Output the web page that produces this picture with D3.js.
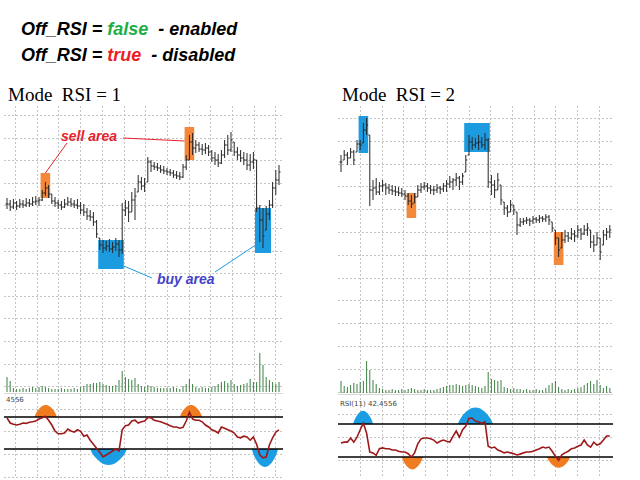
<!DOCTYPE html>
<html lang="en">
<head>
<meta charset="UTF-8">
<title>Off_RSI - Mode RSI 1 / 2</title>
<script src="https://cdn.jsdelivr.net/npm/d3@7"></script>
<style>
    body { margin: 0; background: #fff; }
    svg { display: block; }
    text { white-space: pre; }
    .head { font-family: "Liberation Sans", Arial, sans-serif; font-weight: bold; font-style: italic; font-size: 18px; fill: #000; }
    .mode { font-family: "Liberation Serif", "Times New Roman", serif; font-size: 19px; fill: #000; }
    .note { font-family: "Liberation Sans", Arial, sans-serif; font-weight: bold; font-style: italic; font-size: 14px; }
    .rsiLabel { font-family: "DejaVu Sans", sans-serif; font-size: 7px; fill: #444; }
</style>
</head>
<body>
<div class="container"></div>
<script>
    ////////////////////////////////////////////////////////////////
    /*                      Data          */
    ////////////////////////////////////////////////////////////////

    const headerLines = [
        ["Off_RSI = ", "false", "  - enabled"],
        ["Off_RSI = ", "true", "  - disabled"]
    ]
    const headerColors = ["#1fae45", "#ee1c25"]

    // Mode RSI = 1 (left chart)
    const leftHigh = [102,100,101,99,101,100,102,101,103,104, 103,110,118,115,106,103,100,99,101,103,
        102,100,101,98,96,92,90,88,80,62, 60,59,61,58,62,60,97,100,99,108,
        112,125,123,122,143,140,138,137,135,134, 132,131,130,129,128,136,145,165,167,160,
        158,156,157,155,150,148,146,150,160,165, 168,158,153,150,148,147,146,148,140,95,
        92,94,100,118,130,135]
    const leftLow = [91,89,91,90,92,92,93,93,94,95, 94,99,104,102,96,93,91,90,92,94,
        93,92,91,86,84,80,79,74,62,50, 47,49,48,47,49,43,46,84,78,88,
        80,108,110,108,118,128,130,129,127,126, 125,124,122,121,120,122,130,140,145,147,
        148,145,146,144,138,135,133,136,142,145, 148,144,140,138,135,130,129,131,88,58,
        52,70,80,92,105,115]
    const leftClose = [96,93,97,94,96,95,97,96,98,99, 100,107,112,106,99,97,95,93,96,98,
        96,95,94,90,88,84,83,78,66,55, 52,54,51,53,56,50,90,92,88,100,
        104,118,114,116,138,134,133,132,130,129, 128,127,125,124,123,133,140,158,152,155,
        151,150,152,148,142,140,137,145,155,150, 160,148,145,142,140,135,138,140,92,80,
        64,86,95,112,120,128]
    const leftVolume = [15,11,4,3,3,4,3,4,5,4, 5,6,5,4,3,3,3,4,3,3,
        3,4,3,5,6,8,8,9,9,10, 8,7,6,6,7,12,21,15,13,12,
        14,8,6,5,7,6,5,4,4,4, 4,4,5,4,3,6,8,13,8,5,
        4,5,4,4,5,6,8,10,11,9, 12,8,6,7,8,9,13,10,10,39,
        27,15,12,10,8,10]
    const leftRsi = [68.8,62.5,61,60,61,62.5,62,63.5,64,65, 67.5,69,71,66,60,52.5,49,49,50,55,
        52.5,51,54,52,46,47.5,41,36,31,26, 20,22.5,25,27.5,30,27.5,54,59,60,65,
        66,62.5,64,65,69,69,66,65,64,62.5, 61,59,57.5,57.5,56,57,65,76,67.5,66,
        66,64,60,57.5,54,52.5,50,57.5,56,54, 52.5,50,45,44,46,45,41,45,36,22.5,
        19,20,35,44,51,54]
    const leftZones = [
        {from: 11, to: 13, top: 127, bottom: 102, tone: "orange"},
        {from: 56, to: 58, top: 173, bottom: 140, tone: "orange"},
        {from: 29, to: 36, top: 60, bottom: 31, tone: "blue"},
        {from: 78, to: 82, top: 92, bottom: 47, tone: "blue"}
    ]
    const leftBlobs = [
        {from: 8.6, to: 15.6, peak: 85, tone: "orange"},
        {from: 54, to: 61, peak: 85, tone: "orange"},
        {from: 26, to: 37.5, peak: 10, tone: "blue"},
        {from: 76.5, to: 84.7, peak: 7.5, tone: "blue"}
    ]

    // Mode RSI = 2 (right chart)
    const rightHigh = [145,150,148,152,150,160,160,177,182,165, 120,122,118,120,117,116,115,114,113,112,
        110,107,105,107,115,117,118,117,115,114, 116,114,117,120,124,122,127,124,127,145,
        165,163,162,165,163,167,162,125,120,127, 115,98,95,100,95,88,82,82,83,82,
        84,83,85,84,86,85,78,70,62,68, 70,68,72,70,75,72,75,77,70,65,
        68,62,70,72,75]
    const rightLow = [128,140,135,142,135,148,150,157,165,94, 100,105,105,108,105,106,105,104,104,103,
        100,95,92,97,103,107,110,108,106,105, 107,106,108,108,112,110,114,110,115,128,
        145,150,152,150,152,150,112,105,102,110, 95,85,83,88,85,65,73,75,76,74,
        76,77,77,78,78,75,68,55,43,52, 57,58,60,58,62,60,65,64,52,48,
        55,40,55,60,62]
    const rightClose = [138,145,142,148,140,156,155,170,175,110, 112,108,114,115,112,110,109,108,107,106,
        104,99,96,103,110,113,114,112,110,110, 112,111,114,116,118,120,122,118,124,140,
        158,155,157,158,155,160,118,115,110,120, 100,92,88,95,90,75,78,79,80,79,
        81,80,82,81,83,80,72,62,50,60, 64,62,66,64,70,66,70,72,58,55,
        62,48,65,68,70]
    const rightVolume = [12,7,6,8,10,9,11,12,32,23, 13,9,5,4,3,3,4,3,3,4,
        3,4,5,4,3,3,4,3,3,3, 4,5,6,7,8,8,9,8,7,8,
        9,8,7,6,5,7,21,14,13,12, 13,6,5,4,5,4,4,3,4,3,
        3,4,3,3,5,8,10,12,6,4, 3,4,3,4,5,6,8,10,12,9,
        13,8,5,7,5]
    const rightRsi = [47,48,48,53,48,54,63,71,59,36, 35,32,40,41,40,40,38.5,38.5,37,36,
        36,34,30,35,46,52,53,53,52,50.5, 47,49,50.5,49,48,55,61.5,54,63,67.5,
        77,77,73.5,72.5,71,72.5,43,41,42,38.5, 37,35,36,35,34,32.5,33.5,35,36,36,
        37,38.5,40,42,41,42,37,31,26,32.5, 35,37,40,41,43,44.5,50.5,44.5,42,48,
        44.5,46,50.5,55.5,55.5]
    const rightZones = [
        {from: 6, to: 8, top: 184, bottom: 147, tone: "blue"},
        {from: 21, to: 23, top: 107, bottom: 82, tone: "orange"},
        {from: 39, to: 46, top: 177, bottom: 148, tone: "blue"},
        {from: 67, to: 69, top: 68, bottom: 35, tone: "orange"}
    ]
    const rightBlobs = [
        {from: 3.8, to: 10, peak: 86, tone: "blue"},
        {from: 36.5, to: 47.5, peak: 90, tone: "blue"},
        {from: 19, to: 25.6, peak: 15, tone: "orange"},
        {from: 64.4, to: 71.6, peak: 17, tone: "orange"}
    ]

    const rsiLevels = [70, 30]

    ////////////////////////////////////////////////////////////////
    /*                      Containers and scales                */
    ////////////////////////////////////////////////////////////////

    const svg = d3.select(".container")
        .append("svg")
        .attr("width", 640)
        .attr("height", 480)
        .attr("viewBox", "0 0 640 480")
    const tone = d3.scaleOrdinal().domain(["orange", "blue"]).range(["#f07c22", "#1a9de2"])
    const zoneTone = d3.scaleOrdinal().domain(["orange", "blue"]).range(["#f3883a", "#1c9be0"])

    // header lines
    svg.selectAll(".head")
        .data(headerLines)
        .join("text")
        .attr("class", "head")
        .attr("x", 21)
        .attr("y", (d, i) => 35 + i * 25.5)
        .each(function (d, i) {
            d3.select(this).selectAll("tspan")
                .data(d)
                .join("tspan")
                .attr("fill", (t, j) => j === 1 ? headerColors[i] : "#000")
                .text(t => t)
        })

    const panels = [
        {title: "Mode  RSI = 1", high: leftHigh, low: leftLow, close: leftClose, volume: leftVolume,
            rsi: leftRsi, zones: leftZones, blobs: leftBlobs,
            xRange: [7, 279], extent: [4, 283], gridX0: 15, gridY0: 115, gridStepY: 22.6,
            volBase: 392, rsiRange: [473, 393], rsiText: "4556", rsiTextX: 6, rsiTextY: 402},
        {title: "Mode  RSI = 2", high: rightHigh, low: rightLow, close: rightClose, volume: rightVolume,
            rsi: rightRsi, zones: rightZones, blobs: rightBlobs,
            xRange: [341, 609.8], extent: [338, 613], gridX0: 360, gridY0: 118, gridStepY: 22.8,
            volBase: 393, rsiRange: [481.75, 399.25], rsiText: "RSI(11) 42.4556", rsiTextX: 340, rsiTextY: 406}
    ]

    const scales = panels.map(drawPanel)

    ////////////////////////////////////////////////////////////////
    /*                      Annotations (left chart)             */
    ////////////////////////////////////////////////////////////////

    const L = scales[0]
    const ann = svg.append("g")
    ann.append("text").attr("class", "note").attr("x", 61).attr("y", 141).attr("fill", "#e8202a").text("sell area")
    ann.append("text").attr("class", "note").attr("x", 157).attr("y", 284).attr("fill", "#4343c9").text("buy area")
    const z = leftZones
    const links = [
        {p1: [67, 143], p2: [L.x((z[0].from + z[0].to) / 2), L.y(z[0].top)], c: "#e8202a"},
        {p1: [123, 138], p2: [L.x(z[1].from) - 1.6, L.y(z[1].top - 14)], c: "#e8202a"},
        {p1: [152, 278], p2: [L.x(z[2].to) + 1.6, L.y(z[2].bottom + 3)], c: "#1a9de2"},
        {p1: [215, 272], p2: [L.x(z[3].from) + 2, L.y(z[3].bottom + 10)], c: "#1a9de2"}
    ]
    ann.selectAll("line")
        .data(links)
        .join("line")
        .attr("x1", d => d.p1[0]).attr("y1", d => d.p1[1])
        .attr("x2", d => d.p2[0]).attr("y2", d => d.p2[1])
        .attr("stroke", d => d.c)
        .attr("stroke-width", 1)

    ////////////////////////////////////////////////////////////////
    /*                      Panel drawing                        */
    ////////////////////////////////////////////////////////////////

    function drawPanel(p) {
        const n = p.high.length
        const x = d3.scaleLinear().domain([0, n - 1]).range(p.xRange)
        const y = d3.scaleLinear().domain([0, 200]).range([300, 100])
        const yv = d3.scaleLinear().domain([0, 50]).range([p.volBase, p.volBase - 50])
        const yr = d3.scaleLinear().domain([0, 100]).range(p.rsiRange)
        const half = (x(1) - x(0)) / 2
        const g = svg.append("g")

        g.append("text").attr("class", "mode").attr("x", p.extent[0] + 4).attr("y", 101).text(p.title)

        // dashed grid
        const grid = g.append("g").attr("stroke", "#c4c4c4").attr("stroke-width", 1).attr("stroke-dasharray", "2,2")
        grid.selectAll(".v")
            .data(d3.range(p.gridX0, p.extent[1], 21.7))
            .join("line")
            .attr("x1", d => Math.round(d) + 0.5).attr("x2", d => Math.round(d) + 0.5)
            .attr("y1", 106).attr("y2", 478)
        grid.selectAll(".h")
            .data(d3.range(p.gridY0, 478, p.gridStepY))
            .join("line")
            .attr("x1", p.extent[0]).attr("x2", p.extent[1])
            .attr("y1", d => Math.round(d) + 0.5).attr("y2", d => Math.round(d) + 0.5)

        // zone boxes
        g.selectAll(".zone")
            .data(p.zones)
            .join("rect")
            .attr("x", d => x(d.from) - half)
            .attr("width", d => x(d.to) - x(d.from) + 2 * half)
            .attr("y", d => y(d.top))
            .attr("height", d => y(d.bottom) - y(d.top))
            .attr("fill", d => zoneTone(d.tone))

        // OHLC bars, open tick taken from the previous close
        g.append("g")
            .selectAll("path")
            .data(p.high.map((h, i) => ({i, h, l: p.low[i], c: p.close[i],
                o: Math.min(h, Math.max(p.low[i], i ? p.close[i - 1] : p.close[i]))})))
            .join("path")
            .attr("d", d => {
                const cx = x(d.i)
                return `M${cx},${y(d.h)}V${y(d.l)}M${cx - 1.5},${y(d.o)}H${cx}M${cx},${y(d.c)}H${cx + 1.5}`
            })
            .attr("stroke", "#262626")
            .attr("stroke-width", 1)
            .attr("fill", "none")

        // volume
        g.append("line")
            .attr("x1", p.extent[0]).attr("x2", p.extent[1])
            .attr("y1", p.volBase + 1.5).attr("y2", p.volBase + 1.5)
            .attr("stroke", "#d8d8d8")
        g.append("g")
            .selectAll("line")
            .data(p.volume)
            .join("line")
            .attr("x1", (d, i) => x(i)).attr("x2", (d, i) => x(i))
            .attr("y1", yv(0)).attr("y2", d => yv(d))
            .attr("stroke", "#3f7f44")
            .attr("stroke-width", 1)

        g.append("text").attr("class", "rsiLabel").attr("x", p.rsiTextX).attr("y", p.rsiTextY).text(p.rsiText)

        // RSI blobs
        const blobArea = d3.area()
            .x(d => x(d.t))
            .y0(d => yr(d.level))
            .y1(d => yr(d.v))
        g.selectAll(".blob")
            .data(p.blobs)
            .join("path")
            .attr("d", b => {
                const level = b.peak > 50 ? rsiLevels[0] : rsiLevels[1]
                const pts = d3.range(0, 1.0001, 0.05).map(k => ({
                    t: b.from + (b.to - b.from) * k,
                    level,
                    v: level + (b.peak - level) * Math.pow(Math.sin(Math.PI * k), 0.75)
                }))
                return blobArea(pts)
            })
            .attr("fill", b => tone(b.tone))

        // RSI levels
        g.selectAll(".lvl")
            .data(rsiLevels)
            .join("line")
            .attr("x1", p.extent[0]).attr("x2", p.extent[1])
            .attr("y1", d => yr(d)).attr("y2", d => yr(d))
            .attr("stroke", "#000")
            .attr("stroke-width", 1.6)

        // RSI line
        g.append("path")
            .datum(p.rsi)
            .attr("d", d3.line().x((d, i) => x(i)).y(d => yr(d)))
            .attr("fill", "none")
            .attr("stroke", "#9c1a1a")
            .attr("stroke-width", 1.6)

        return {x, y, yv, yr}
    }
</script>
</body>
</html>
